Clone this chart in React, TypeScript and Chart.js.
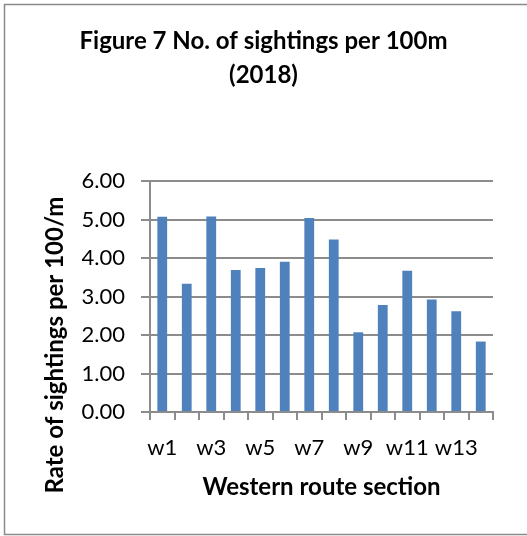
import React, { useEffect, useRef } from "react";
import { Chart, registerables } from "chart.js";

Chart.register(...registerables);

const sections = ["w1", "w2", "w3", "w4", "w5", "w6", "w7", "w8", "w9", "w10", "w11", "w12", "w13", "w14"];
const sightingRates = [5.07, 3.33, 5.08, 3.69, 3.74, 3.9, 5.04, 4.48, 2.07, 2.78, 3.67, 2.92, 2.62, 1.83];
const yTicks = [0, 1, 2, 3, 4, 5, 6];

const titleLines = ["Figure 7 No. of sightings per 100m", "(2018)"];
const xTitle = "Western route section";
const yTitle = "Rate of sightings per 100/m";

const FONT = "Lato, 'Open Sans', 'Liberation Sans', sans-serif";
const GRID = "#8c8c8c";

// Outer frame, two-line chart title and the rotated value-axis title
const framePlugin = {
  id: "frame",
  afterDraw(chart: any) {
    const { ctx, width } = chart;
    ctx.save();
    ctx.strokeStyle = "#8a8a8a";
    ctx.lineWidth = 1.5;
    ctx.beginPath();
    ctx.moveTo(600, 4.5);
    ctx.lineTo(4.5, 4.5);
    ctx.lineTo(4.5, 534.5);
    ctx.lineTo(600, 534.5);
    ctx.stroke();

    ctx.fillStyle = "#000";
    ctx.font = `bold 24px ${FONT}`;
    ctx.textAlign = "center";
    ctx.textBaseline = "alphabetic";
    ctx.fillText(titleLines[0], width / 2, 49);
    ctx.fillText(titleLines[1], width / 2, 83);

    ctx.translate(55, 345);
    ctx.rotate(-Math.PI / 2);
    ctx.font = `bold 24px ${FONT}`;
    ctx.textBaseline = "middle";
    ctx.fillText(yTitle, 0, 0);
    ctx.restore();
  },
};

export default function App() {
  const canvasRef = useRef<HTMLCanvasElement | null>(null);

  useEffect(() => {
    document.body.style.margin = "0";
    const canvas = canvasRef.current;
    if (!canvas) return;
    const chart = new Chart(canvas, {
      type: "bar",
      data: {
        labels: sections,
        datasets: [
          {
            data: sightingRates,
            backgroundColor: "#4f81bd",
            borderWidth: 0,
            categoryPercentage: 1,
            barPercentage: 0.4,
          },
        ],
      },
      plugins: [framePlugin],
      options: {
        responsive: false,
        animation: false,
        devicePixelRatio: 1,
        layout: { padding: { left: 0, right: 34, top: 181, bottom: 0 } },
        plugins: {
          legend: { display: false },
          tooltip: { enabled: false },
          title: { display: false },
        },
        scales: {
          x: {
            grid: {
              offset: true,
              drawOnChartArea: false,
              drawTicks: true,
              tickLength: 8,
              color: GRID,
              lineWidth: 2,
            },
            border: { color: GRID, width: 2 },
            ticks: {
              autoSkip: false,
              maxRotation: 0,
              padding: 15,
              color: "#000",
              font: { family: FONT, size: 22 },
              callback: (_v: any, i: number) => (i % 2 === 0 ? sections[i] : ""),
            },
            title: {
              display: true,
              text: xTitle,
              color: "#000",
              font: { family: FONT, size: 24, weight: "bold", lineHeight: 1.2 },
              padding: { top: 0, bottom: 34 },
            },
            afterFit: (scale: any) => {
              scale.height = 124;
            },
          },
          y: {
            min: 0,
            max: 6,
            afterBuildTicks: (scale: any) => {
              scale.ticks = yTicks.map((v) => ({ value: v }));
            },
            grid: { color: GRID, lineWidth: 2, tickLength: 9 },
            border: { color: GRID, width: 2 },
            ticks: {
              padding: 16,
              color: "#000",
              font: { family: FONT, size: 22 },
              callback: (v: any) => Number(v).toFixed(2),
            },
            afterFit: (scale: any) => {
              scale.width = 150;
            },
          },
        },
      },
    });
    return () => chart.destroy();
  }, []);

  return <canvas ref={canvasRef} width={527} height={536} style={{ display: "block" }} />;
}
